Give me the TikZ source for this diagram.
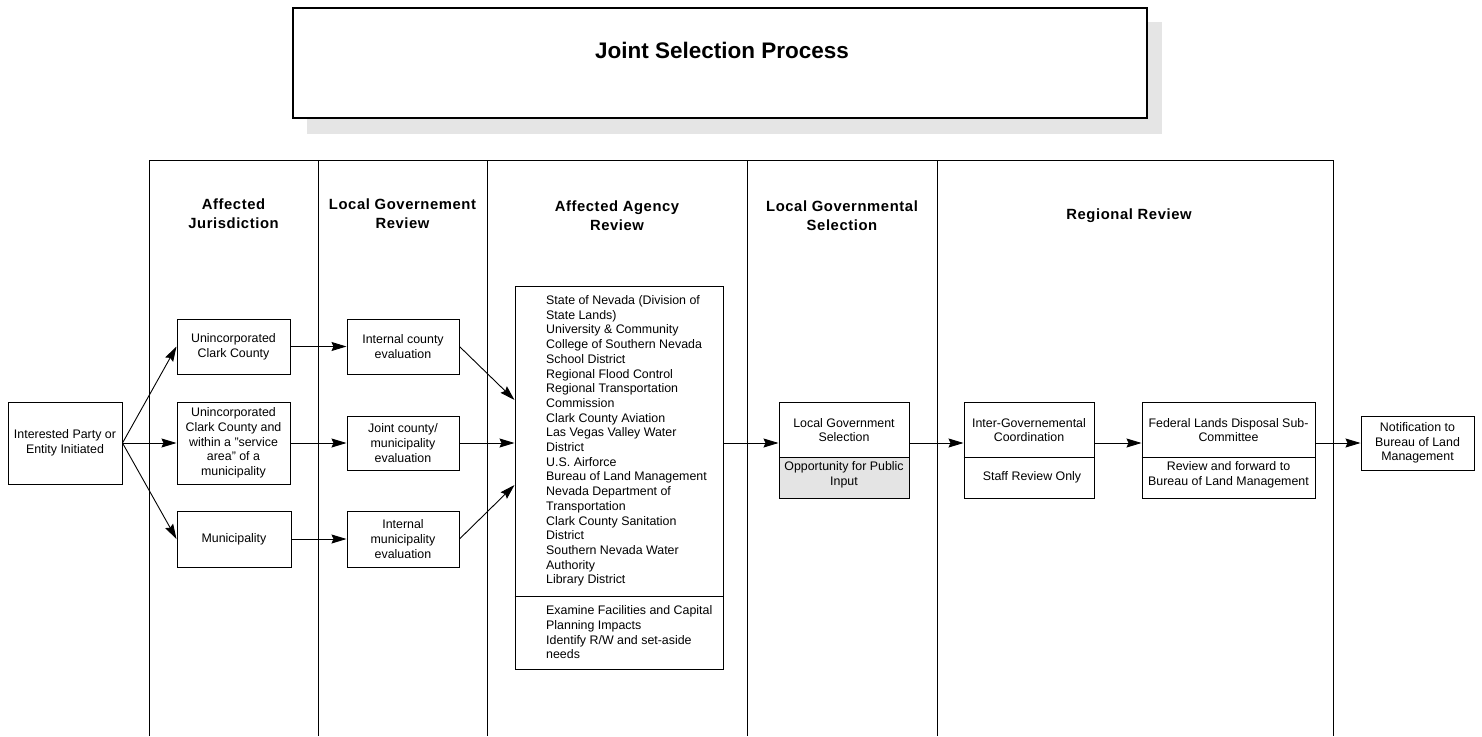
\documentclass[tikz,border=0pt]{standalone}
\usepackage{fontspec}
\setmainfont{Liberation Sans}
\usetikzlibrary{arrows.meta}
\definecolor{shadowgray}{RGB}{229,229,229}
\definecolor{inputgray}{RGB}{228,228,228}
\newcommand\bodysize{\fontsize{12.4}{14.7}\selectfont}
\newcommand\headsize{\fontsize{14.8}{19}\selectfont\bfseries\addfontfeature{LetterSpace=4}}
\begin{document}
\begin{tikzpicture}[x=1pt,y=-1pt,
  box/.style={draw, line width=1pt, inner sep=0pt, align=center, font=\bodysize},
  txt/.style={inner sep=0pt, align=center, font=\bodysize},
  head/.style={inner sep=0pt, align=center, font=\headsize},
  lane/.style={line width=1pt},
  flow/.style={line width=0.9pt, -{Stealth[length=15pt,width=9pt,inset=2pt]}},
]
\useasboundingbox (0,0) rectangle (1482,736);

% title banner with drop shadow
\fill[shadowgray] (307,22) rectangle (1162,134);
\node[draw, line width=2.6pt, fill=white, minimum width=854, minimum height=110, inner sep=0pt] (title) at (720,63) {};
\node[inner sep=0pt, font=\fontsize{22.5}{26}\selectfont\bfseries] (titletext) at (722,50) {Joint Selection Process};

% swim lanes
\draw[lane] (149,736) -- (149,160) -- (1333,160) -- (1333,736);
\foreach \lx in {318,487,747,937} \draw[lane] (\lx,160) -- (\lx,736);

\node[head] (h1) at (233.5,214) {Affected\\Jurisdiction};
\node[head] (h2) at (402.5,214) {Local Governement\\Review};
\node[head] (h3) at (617,216) {Affected Agency\\Review};
\node[head] (h4) at (842,216) {Local Governmental\\Selection};
\node[head] (h5) at (1129,216) {Regional Review};

% starting point
\node[box, minimum width=114, minimum height=82] (start) at (65,443) {Interested Party or\\Entity Initiated};

% affected jurisdiction
\node[box, minimum width=113, minimum height=55] (ucc) at (233.5,346.5) {Unincorporated\\Clark County};
\node[box, minimum width=113, minimum height=82] (ucs) at (233.5,443) {Unincorporated\\Clark County and\\within a "service\\area" of a\\municipality};
\node[box, minimum width=114, minimum height=56] (mun) at (234,539) {Municipality};

% local government review
\node[box, minimum width=112, minimum height=55] (ice) at (403,346.5) {Internal county\\evaluation};
\node[box, minimum width=112, minimum height=54] (jce) at (403,443) {Joint county/\\municipality\\evaluation};
\node[box, minimum width=112, minimum height=56] (ime) at (403,539) {Internal\\municipality\\evaluation};

% affected agency review
\node[box, minimum width=208, minimum height=383] (agency) at (619,477.5) {};
\draw[line width=1pt] (agency.west |- 0,596) -- (agency.east |- 0,596);
\node[txt, align=left, anchor=west] (agencies) at (546,441) {State of Nevada (Division of\\State Lands)\\University \& Community\\College of Southern Nevada\\School District\\Regional Flood Control\\Regional Transportation\\Commission\\Clark County Aviation\\Las Vegas Valley Water\\District\\U.S. Airforce\\Bureau of Land Management\\Nevada Department of\\Transportation\\Clark County Sanitation\\District\\Southern Nevada Water\\Authority\\Library District};
\node[txt, align=left, anchor=west] (tasks) at (546,632.5) {Examine Facilities and Capital\\Planning Impacts\\Identify R/W and set-aside\\needs};

% local governmental selection
\node[box, minimum width=130, minimum height=96] (lgs) at (844,450) {};
\node[box, fill=inputgray, minimum width=130, minimum height=41] (lgsin) at (844,477.5) {};
\node[txt] (lgstext) at (844,430) {Local Government\\Selection};
\node[txt] (lgsintext) at (844,475) {Opportunity for Public\\Input};

% regional review
\node[box, minimum width=130, minimum height=96] (igc) at (1029,450) {};
\draw[line width=1pt] (igc.west |- 0,457) -- (igc.east |- 0,457);
\node[txt] (igctext) at (1029,430) {Inter-Governemental\\Coordination};
\node[txt] (igcsub) at (1032,477) {Staff Review Only};

\node[box, minimum width=173, minimum height=96] (fld) at (1228.5,450) {};
\draw[line width=1pt] (fld.west |- 0,457) -- (fld.east |- 0,457);
\node[txt] (fldtext) at (1228.5,430) {Federal Lands Disposal Sub-\\Committee};
\node[txt] (fldsub) at (1228.5,475) {Review and forward to\\Bureau of Land Management};

\node[box, minimum width=113, minimum height=54] (notif) at (1417.5,443) {Notification to\\Bureau of Land\\Management};

% connectors
\draw[flow] (start.east) -- (ucc.west);
\draw[flow] (start.east) -- (ucs.west);
\draw[flow] (start.east) -- (mun.west);
\draw[flow] (ucc) -- (ice);
\draw[flow] (ucs) -- (jce);
\draw[flow] (mun) -- (ime);
\draw[flow] (ice.east) -- ([yshift=77.5pt]agency.west);
\draw[flow] (jce.east) -- (agency.west |- jce.east);
\draw[flow] (ime.east) -- ([yshift=-7.5pt]agency.west);
\draw[flow] (agency.east |- jce.east) -- (lgs.west |- jce.east);
\draw[flow] (lgs.east |- jce.east) -- (igc.west |- jce.east);
\draw[flow] (igc.east |- jce.east) -- (fld.west |- jce.east);
\draw[flow] (fld.east |- jce.east) -- (notif.west);
\end{tikzpicture}
\end{document}
